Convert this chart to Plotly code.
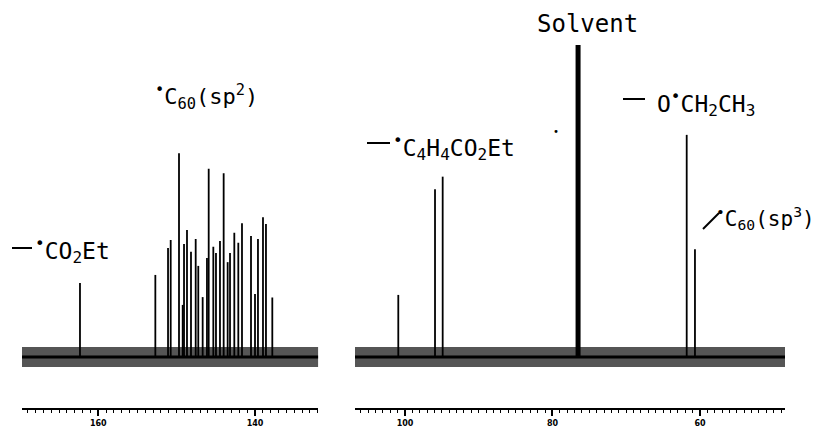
import plotly.graph_objects as go

# ---------------- data (ppm, relative intensity; solvent = 100) ----------------
left_ppm = [162.34, 152.72, 151.10, 150.76, 149.70, 149.23, 149.06, 148.68, 148.17,
            147.57, 147.24, 146.68, 146.13, 145.91, 145.32, 144.98, 144.47, 144.00,
            143.49, 143.19, 142.64, 142.13, 141.66, 140.51, 140.00, 139.62, 138.98,
            138.60, 137.79]
left_int = [23.7, 26.3, 34.9, 37.5, 65.3, 16.7, 36.2, 40.7, 33.7,
            37.8, 29.2, 19.2, 31.7, 60.3, 35.3, 33.3, 37.2, 58.9,
            30.4, 33.3, 39.8, 36.6, 42.9, 38.8, 20.2, 37.8, 44.8,
            42.6, 19.1]

right_ppm = [100.91, 95.93, 94.89, 61.80, 60.68]
right_int = [19.9, 53.8, 57.8, 71.2, 34.5]

solvent_ppm = [76.53]
solvent_int = [100.0]

left_range = [169.74, 131.92]
right_range = [106.78, 48.47]
tick_vals_left = [160, 140]
tick_vals_right = [100, 80, 60]
noise_amplitude = 3.2

# page has an 8px body margin -> figure is drawn 8px right/down of the window origin
OFF = 8
W, H = 819 - OFF, 428 - OFF
B = 20
PH = H - B


def px(x):
    return (x - OFF) / W


def py(y):
    return (PH - (y - OFF)) / PH


def sticks(ppm, inten):
    xs, ys = [], []
    for p, h in zip(ppm, inten):
        xs += [p, p, None]
        ys += [0, h, None]
    return xs, ys


fig = go.Figure()

# noise bands (baseline)
for xa, rng in (("x", left_range), ("x2", right_range)):
    fig.add_trace(go.Scatter(
        x=[rng[0], rng[1], rng[1], rng[0], rng[0]],
        y=[-noise_amplitude, -noise_amplitude, noise_amplitude, noise_amplitude, -noise_amplitude],
        fill="toself", fillcolor="#555555", line=dict(width=0),
        mode="lines", xaxis=xa, yaxis="y", hoverinfo="skip", showlegend=False))
    fig.add_trace(go.Scatter(
        x=[rng[0], rng[1]], y=[0, 0], mode="lines", line=dict(color="black", width=3),
        xaxis=xa, yaxis="y", hoverinfo="skip", showlegend=False))

lx, ly = sticks(left_ppm, left_int)
fig.add_trace(go.Scatter(x=lx, y=ly, mode="lines", line=dict(color="black", width=1.8),
                         xaxis="x", yaxis="y", showlegend=False))
rx, ry = sticks(right_ppm, right_int)
fig.add_trace(go.Scatter(x=rx, y=ry, mode="lines", line=dict(color="black", width=1.8),
                         xaxis="x2", yaxis="y", showlegend=False))
sx, sy = sticks(solvent_ppm, solvent_int)
fig.add_trace(go.Scatter(x=sx, y=sy, mode="lines", line=dict(color="black", width=5),
                         xaxis="x2", yaxis="y", showlegend=False))

axis_common = dict(
    showline=True, linecolor="black", linewidth=2, mirror=False,
    ticks="outside", ticklen=6, tickwidth=1.5, tickcolor="black",
    showgrid=False, zeroline=False,
    tickfont=dict(family="DejaVu Sans", size=8, color="black", weight="bold"),
    minor=dict(dtick=1, ticklen=3, tickwidth=1, tickcolor="black", ticks="outside", showgrid=False),
    anchor="y",
)

# y: 0 -> screen 357, axis line -> screen 408
y_unit = 3.12
y_lo = -(408 - 357) / y_unit
y_hi = y_lo + PH / y_unit

fig.update_layout(
    width=W, height=H,
    margin=dict(l=0, r=0, t=0, b=B),
    paper_bgcolor="white", plot_bgcolor="white",
    showlegend=False,
    xaxis=dict(domain=[px(22), px(318.3)], range=left_range, tickvals=tick_vals_left, **axis_common),
    xaxis2=dict(domain=[px(355), px(785)], range=right_range, tickvals=tick_vals_right, **axis_common),
    yaxis=dict(range=[y_lo, y_hi], visible=False, domain=[0, 1]),
)

FONT = dict(family="DejaVu Sans Mono", size=23, color="black")


def label(text, x, y, xanchor="left", size=23):
    fig.add_annotation(text=text, x=px(x), y=py(y), xref="paper", yref="paper",
                       xanchor=xanchor, yanchor="middle", showarrow=False,
                       font=dict(FONT, size=size))


DOT = "<sup>•</sup>"
label("Solvent", 587.5, 24, xanchor="center", size=24)
label("O" + DOT + "CH<sub>2</sub>CH<sub>3</sub>", 655, 103)
label(DOT + "C<sub>4</sub>H<sub>4</sub>CO<sub>2</sub>Et", 391, 147)
label(DOT + "C<sub>60</sub>(sp<sup>3</sup>)", 714, 218, size=21)
label(DOT + "C<sub>60</sub>(sp<sup>2</sup>)", 153, 97, size=22)
label(DOT + "CO<sub>2</sub>Et", 33, 251)
label("•", 555.7, 131, xanchor="center", size=10)

# leader lines
for (x0, y0, x1, y1) in [(12, 248, 32, 248), (367, 143, 390, 143),
                         (623, 99, 645, 99), (703, 229, 719, 213)]:
    fig.add_shape(type="line", xref="paper", yref="paper",
                  x0=px(x0), y0=py(y0), x1=px(x1), y1=py(y1),
                  line=dict(color="black", width=2))

fig.write_html("out.html")
